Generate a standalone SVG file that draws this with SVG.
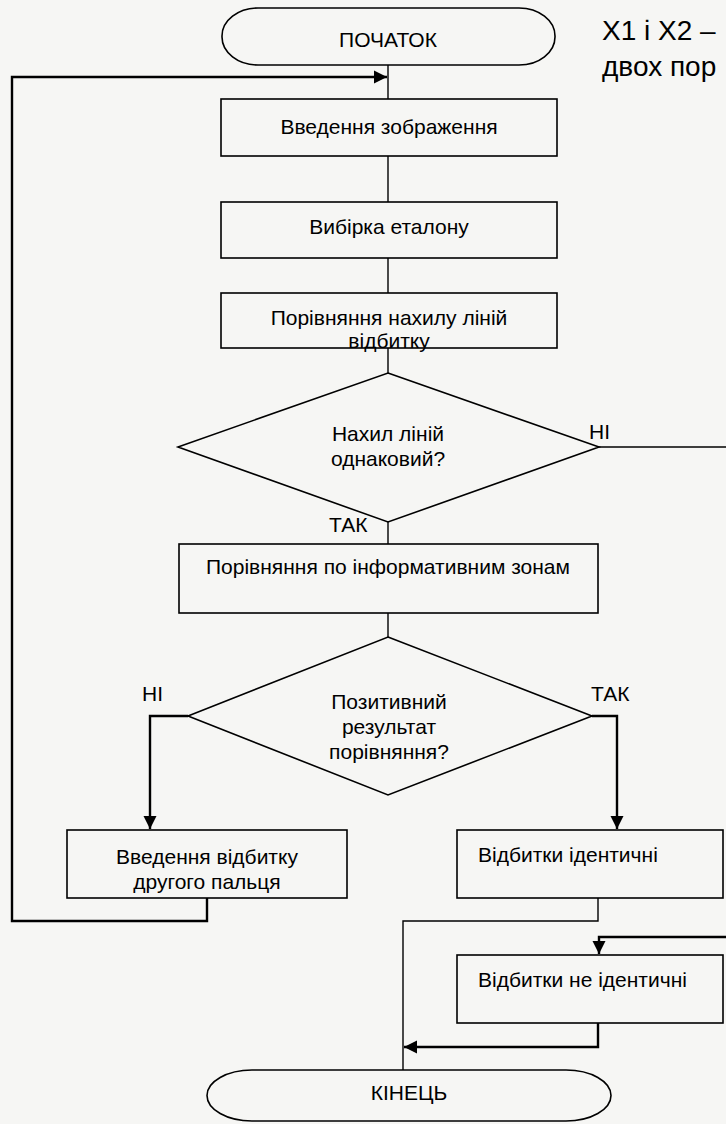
<svg xmlns="http://www.w3.org/2000/svg" width="726" height="1124" viewBox="0 0 726 1124">
<style>
.shape{fill:none;stroke:#000;stroke-width:1.6}
.t{font-family:"Liberation Sans",Arial,sans-serif;font-size:21px;fill:#000;text-anchor:middle}
.ts{font-family:"Liberation Sans",Arial,sans-serif;font-size:21px;fill:#000}
.big{font-family:"Liberation Sans",Arial,sans-serif;font-size:28px;fill:#000}
.c{fill:none;stroke:#000;stroke-width:1.4}
.ca{fill:none;stroke:#000;stroke-width:2.4}
</style>
<defs>
<marker id="ah" viewBox="0 0 10 10" refX="10" refY="5" markerWidth="5.5" markerHeight="5.5" orient="auto" markerUnits="strokeWidth">
<path d="M0,0 L10,5 L0,10 Z" fill="#000"/>
</marker>
</defs>
<rect width="726" height="1124" fill="#f6f6f4"/>
<g id="connectors">
<line class="c" x1="388" y1="65" x2="388" y2="99"/>
<line class="c" x1="388" y1="156" x2="388" y2="202"/>
<line class="c" x1="388" y1="258" x2="388" y2="293"/>
<line class="c" x1="388" y1="348" x2="388" y2="373"/>
<line class="c" x1="599" y1="447" x2="726" y2="447"/>
<line class="c" x1="388" y1="522" x2="388" y2="544"/>
<line class="c" x1="388" y1="613" x2="388" y2="637"/>
<polyline class="ca" points="188,716 150,716 150,829" marker-end="url(#ah)"/>
<polyline class="ca" points="592,716 617,716 617,829" marker-end="url(#ah)"/>
<polyline class="ca" points="207,898 207,921 12,921 12,77 387,77" marker-end="url(#ah)"/>
<polyline class="c" points="598,898 598,921 403,921 403,1070"/>
<polyline class="ca" points="726,937 599,937 599,954" marker-end="url(#ah)"/>
<polyline class="ca" points="598,1023 598,1047 404,1047" marker-end="url(#ah)"/>
</g>
<g id="start">
<rect class="shape" x="222" y="8" width="333" height="57" rx="36" ry="28"/>
<text class="t" x="388" y="47">ПОЧАТОК</text>
</g>
<g id="note">
<text class="big" x="602" y="40">X1 і X2 –</text>
<text class="big" x="602" y="76">двох пор</text>
</g>
<g id="input">
<rect class="shape" x="221" y="99" width="336" height="57"/>
<text class="t" x="389" y="134">Введення зображення</text>
</g>
<g id="sample">
<rect class="shape" x="221" y="202" width="336" height="56"/>
<text class="t" x="389" y="234">Вибірка еталону</text>
</g>
<g id="compare-slope">
<rect class="shape" x="221" y="293" width="336" height="55"/>
<text class="t" x="389" y="325">Порівняння нахилу ліній</text>
<text class="t" x="389" y="348">відбитку</text>
</g>
<g id="decision1">
<polygon class="shape" points="388,373 599,447 388,522 178,447"/>
<text class="t" x="388" y="441">Нахил ліній</text>
<text class="t" x="388" y="466">однаковий?</text>
<text class="ts" x="589" y="439">НІ</text>
<text class="ts" x="329" y="532">ТАК</text>
</g>
<g id="compare-zones">
<rect class="shape" x="179" y="544" width="419" height="69"/>
<text class="t" x="388" y="574">Порівняння по інформативним зонам</text>
</g>
<g id="decision2">
<polygon class="shape" points="388,637 592,716 388,795 188,716"/>
<text class="t" x="389" y="709">Позитивний</text>
<text class="t" x="389" y="734">результат</text>
<text class="t" x="389" y="759">порівняння?</text>
<text class="ts" x="142" y="701">НІ</text>
<text class="ts" x="591" y="701">ТАК</text>
</g>
<g id="second-finger">
<rect class="shape" x="67" y="830" width="280" height="68"/>
<text class="t" x="207" y="864">Введення відбитку</text>
<text class="t" x="207" y="889">другого пальця</text>
</g>
<g id="identical">
<rect class="shape" x="457" y="830" width="266" height="68"/>
<text class="ts" x="478" y="862">Відбитки ідентичні</text>
</g>
<g id="not-identical">
<rect class="shape" x="457" y="955" width="266" height="68"/>
<text class="ts" x="478" y="987">Відбитки не ідентичні</text>
</g>
<g id="end">
<rect class="shape" x="207" y="1070" width="404" height="51" rx="45" ry="26"/>
<text class="t" x="409" y="1100">КІНЕЦЬ</text>
</g>
</svg>
